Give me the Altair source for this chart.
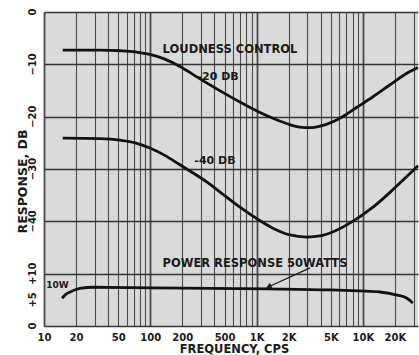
import altair as alt
import pandas as pd

# ---- loudness control curves (response in dB vs. frequency in cps) ----
loud20_freq = [15, 34, 52, 72, 99, 137, 190, 260, 342, 494, 697, 1006, 1425, 1970,
               2560, 3180, 3960, 6100, 8640, 12460, 18000, 25900, 33000]
loud20_db = [-7.3, -7.3, -7.4, -7.6, -8.1, -9.0, -10.4, -12.1, -13.6, -15.5, -17.2, -18.9,
             -20.3, -21.4, -22.0, -22.1, -21.8, -20.3, -18.3, -16.2, -13.9, -11.7, -10.6]

loud40_freq = [15, 34, 52, 72, 99, 137, 190, 260, 342, 494, 697, 1006, 1425, 2060,
               2960, 3960, 5260, 7600, 12460, 20000, 33000]
loud40_db = [-24.1, -24.2, -24.5, -25.0, -26.0, -27.4, -29.2, -30.9, -32.5, -35.0, -37.3,
             -39.5, -41.3, -42.6, -43.0, -42.8, -42.0, -40.3, -37.3, -33.6, -29.4]

# ---- power response at 50 watts (dB, plotted on the lower 0..+10 scale) ----
power_freq = [14.8, 16.1, 17.6, 21.8, 28.9, 100, 1280, 4900, 9300, 14500, 21000, 26000, 29500]
power_db = [5.3, 6.1, 6.5, 7.2, 7.4, 7.3, 7.1, 6.9, 6.7, 6.5, 5.9, 5.3, 4.4]

# the lower scale shares the grid: its 0 sits 60 dB below the upper 0
LOWER_ZERO = -60

# ---- axis grid and labels ----
grid_freqs = [m * 10 ** d for d in range(1, 5) for m in range(1, 10)]
grid_freqs = [f for f in grid_freqs if f <= 30000]
freq_ticks = [10, 20, 50, 100, 200, 500, 1000, 2000, 5000, 10000, 20000]
freq_labels = ["10", "20", "50", "100", "200", "500", "1K", "2K", "5K", "10K", "20K"]

grid_levels = list(range(0, LOWER_ZERO - 1, -5))
level_ticks = [0, -10, -20, -30, -40, -50, -55, -60]
level_labels = ["0", "\u221210", "\u221220", "\u221230", "\u221240", "+10", "+5", "0"]


def label_expr(values, labels):
    expr = "''"
    for v, t in reversed(list(zip(values, labels))):
        expr = f"datum.value == {v} ? '{t}' : ({expr})"
    return expr


rows = []
for f, v in zip(loud20_freq, loud20_db):
    rows.append({"freq": f, "level": v, "curve": "-20 DB"})
for f, v in zip(loud40_freq, loud40_db):
    rows.append({"freq": f, "level": v, "curve": "-40 DB"})
for f, v in zip(power_freq, power_db):
    rows.append({"freq": f, "level": LOWER_ZERO + v, "curve": "POWER"})
curves = pd.DataFrame(rows)

scale_marks = pd.DataFrame({"level": level_ticks, "text": level_labels})

notes = pd.DataFrame([
    {"freq": 562, "level": -7.3, "text": "LOUDNESS CONTROL", "size": 11.5},
    {"freq": 434, "level": -12.4, "text": "-20 DB", "size": 11},
    {"freq": 406, "level": -28.5, "text": "-40 DB", "size": 11},
    {"freq": 966, "level": LOWER_ZERO + 11.85, "text": "POWER RESPONSE 50WATTS", "size": 11.5},
    {"freq": 13.4, "level": LOWER_ZERO + 7.8, "text": "10W", "size": 9},
])

# pointer from the power-response caption to its curve
pointer = pd.DataFrame([
    {"freq": 3180, "level": LOWER_ZERO + 11.1, "freq2": 1300, "level2": LOWER_ZERO + 7.5},
])

x_scale = alt.Scale(type="log", domain=[10, 33000], nice=False)
y_scale = alt.Scale(domain=[LOWER_ZERO, 0], nice=False, zero=False)

decade_test = "datum.value == 10 || datum.value == 100 || datum.value == 1000 || datum.value == 10000"
INK = "#1a1a1a"

x_axis = alt.Axis(
    values=grid_freqs,
    labelExpr=label_expr(freq_ticks, freq_labels),
    labelOverlap=False,
    labelFlush=False,
    labelFont="DejaVu Sans",
    labelFontWeight="bold",
    labelFontSize=10,
    labelColor=INK,
    labelPadding=6,
    ticks=False,
    tickSize=0,
    domain=False,
    grid=True,
    gridColor="#4a4a4a",
    gridWidth={"condition": {"test": decade_test, "value": 1.8}, "value": 1.1},
    gridOpacity=1,
    title="FREQUENCY, CPS",
    titleFont="DejaVu Sans",
    titleFontWeight="bold",
    titleFontSize=11.5,
    titleColor=INK,
    titleX=190,
    titleY=23,
    titleBaseline="middle",
)

# the y axis supplies the 5 dB grid and the title; its two scales are lettered below
y_axis = alt.Axis(
    values=grid_levels,
    labels=False,
    ticks=False,
    tickSize=0,
    domain=False,
    grid=True,
    gridColor="#333333",
    gridWidth=1.6,
    gridOpacity=1,
    title="RESPONSE, DB",
    titleFont="DejaVu Sans",
    titleFontWeight="bold",
    titleFontSize=12.5,
    titleColor=INK,
    titleAngle=-90,
    titleAlign="center",
    titleBaseline="middle",
    titleX=-22,
    titleY=169,
)

lines = alt.Chart(curves).mark_line(color="#111111", strokeWidth=2.8, interpolate="monotone").encode(
    x=alt.X("freq:Q", scale=x_scale, axis=x_axis),
    y=alt.Y("level:Q", scale=y_scale, axis=y_axis),
    detail="curve:N",
)

level_text = alt.Chart(scale_marks).mark_text(
    font="DejaVu Sans", fontWeight="bold", fontSize=10, color=INK,
    angle=270, align="center", baseline="bottom",
).encode(
    x=alt.value(-6),
    y=alt.Y("level:Q", scale=y_scale),
    text="text:N",
)

labels = alt.Chart(notes).mark_text(
    font="DejaVu Sans", fontWeight="bold", color=INK, align="center", baseline="middle"
).encode(
    x=alt.X("freq:Q", scale=x_scale),
    y=alt.Y("level:Q", scale=y_scale),
    text="text:N",
    size=alt.Size("size:Q", scale=None, legend=None),
)

pointer_line = alt.Chart(pointer).mark_rule(color=INK, strokeWidth=1.3).encode(
    x=alt.X("freq:Q", scale=x_scale),
    y=alt.Y("level:Q", scale=y_scale),
    x2="freq2:Q",
    y2="level2:Q",
)

pointer_head = alt.Chart(pointer).mark_point(
    shape="triangle-up", filled=True, color=INK, size=40, angle=246, opacity=1
).encode(
    x=alt.X("freq2:Q", scale=x_scale),
    y=alt.Y("level2:Q", scale=y_scale),
)

chart = alt.layer(lines, pointer_line, pointer_head, labels, level_text).properties(
    width=374,
    height=314,
    autosize=alt.AutoSizeParams(type="none"),
    padding={"left": 44, "top": 12, "right": 1, "bottom": 29},
    background="white",
).configure_view(fill="#dadada", stroke=None)

chart.save("out.html", embed_options={"renderer": "svg", "actions": False})
